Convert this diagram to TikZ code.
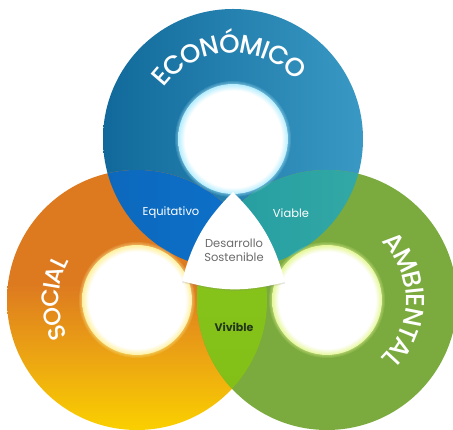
\documentclass[tikz,border=0pt]{standalone}
\usepackage{fontspec}
\usepackage{tikz}
\usetikzlibrary{decorations.text,shadows}
\newfontfamily\poppins{Poppins}
\newfontfamily\ringpoppins{Poppins Medium}
\newcommand{\ringfont}{\ringpoppins\fontsize{26}{26}\selectfont}
\newcommand{\socfont}{\ringpoppins\fontsize{24}{24}\selectfont}

\definecolor{ecoLeft}{HTML}{10699A}
\definecolor{ecoRight}{HTML}{3A99C4}
\definecolor{socTop}{HTML}{DD7A20}
\definecolor{socMid}{HTML}{EBA214}
\definecolor{socBot}{HTML}{FAD000}
\definecolor{ambGreen}{HTML}{7BAA3E}
\definecolor{equiDark}{HTML}{0A62B3}
\definecolor{equiBlue}{HTML}{0E72CC}
\definecolor{viaDark}{HTML}{239A9F}
\definecolor{viaTeal}{HTML}{3BB2AA}
\definecolor{viviTop}{HTML}{8CC81E}
\definecolor{viviBot}{HTML}{80BE16}
\definecolor{ecoGlow}{HTML}{B5EDFF}
\definecolor{socGlow}{HTML}{FFF09E}
\definecolor{ambGlow}{HTML}{E6F79A}
\definecolor{desGray}{HTML}{6B6B6B}
\definecolor{viviText}{HTML}{22361A}

\pgfdeclareverticalshading{socshade}{100bp}{color(0bp)=(socBot); color(25bp)=(socBot); color(40bp)=(socMid); color(53bp)=(socTop); color(100bp)=(socTop)}
\pgfdeclareradialshading{ecoglow}{\pgfpoint{0bp}{0bp}}{color(0bp)=(white); color(22bp)=(white); color(25bp)=(ecoGlow); color(50bp)=(ecoGlow)}
\pgfdeclareradialshading{socglow}{\pgfpoint{0bp}{0bp}}{color(0bp)=(white); color(22bp)=(white); color(25bp)=(socGlow); color(50bp)=(socGlow)}
\pgfdeclareradialshading{ambglow}{\pgfpoint{0bp}{0bp}}{color(0bp)=(white); color(22bp)=(white); color(25bp)=(ambGlow); color(50bp)=(ambGlow)}

\begin{document}
\begin{tikzpicture}[x=1pt,y=1pt,
  lens label/.style={font=\poppins\fontsize{11.5}{14}\selectfont},
  ring text/.style 2 args={decorate,decoration={text effects along path,text={#2},text align=center,
    text effects/.cd,text along path,
    characters={text=white,font=#1,inner sep=0pt,anchor=base},
    character widths={inner xsep=-0.7pt,font=#1}}}]
        % 半径
        \newcommand{\bigR}{130}
        \newcommand{\innerR}{55}

        \useasboundingbox (0,0) rectangle (453,430);

        % 三个圆心
        \coordinate (eco) at (233,291);
        \coordinate (soc) at (137,130);
        \coordinate (amb) at (327,130);

        % 三个大圆
        \shade[left color=ecoLeft,right color=ecoRight] (eco) circle (\bigR);
        \shade[shading=socshade] (soc) circle (\bigR);
        \fill[ambGreen] (amb) circle (\bigR);

        % 交集
        \begin{scope}
          \clip (eco) circle (\bigR);
          \shade[left color=equiDark,right color=equiBlue] (soc) circle (\bigR);
          \shade[left color=viaDark,right color=viaTeal] (amb) circle (\bigR);
        \end{scope}
        \begin{scope}
          \clip (soc) circle (\bigR);
          \shade[top color=viviTop,bottom color=viviBot] (amb) circle (\bigR);
        \end{scope}

        % 白色内圆（外面一圈淡光）
        \foreach \c/\g in {eco/ecoGlow,soc/socGlow,amb/ambGlow}{
          \foreach \i in {1,...,3}
            \fill[\g,opacity=0.15] (\c) circle (\innerR+\i);
        }
        \shade[shading=ecoglow] (eco) circle (\innerR);
        \shade[shading=socglow] (soc) circle (\innerR);
        \shade[shading=ambglow] (amb) circle (\innerR);

        % 中间三角
        \coordinate (tA) at (233,238);
        \coordinate (tB) at (182,149);
        \coordinate (tC) at (285,148);
        \path[fill=white,drop shadow={opacity=0.2,shadow xshift=0pt,shadow yshift=-1.5pt}]
          (tA) to[bend right=15] (tB) to[bend right=15] (tC) to[bend right=15] (tA) -- cycle;

        % 文字
        \node[lens label,text=desGray,align=center] (des) at (234,180) {Desarrollo\\Sostenible};
        \node[lens label,text=white] (equi) at (171,217) {Equitativo};
        \node[lens label,text=white] (via) at (291,217) {Viable};
        \node[lens label,text=viviText,font=\poppins\bfseries\fontsize{11}{13}\selectfont] (vivi) at (234,103) {Vivible};

        \path[ring text={\ringfont}{ECONÓMICO}] ([shift={(150:86)}]eco) arc[start angle=150,end angle=36,radius=86];
        \path[ring text={\socfont}{SOCIAL}] ([shift={(215:78)}]soc) arc[start angle=215,end angle=143,radius=78];
        \path[ring text={\ringfont}{AMBIENTAL}] ([shift={(50:79)}]amb) arc[start angle=50,end angle=-50,radius=79];
    \end{tikzpicture}
\end{document}
